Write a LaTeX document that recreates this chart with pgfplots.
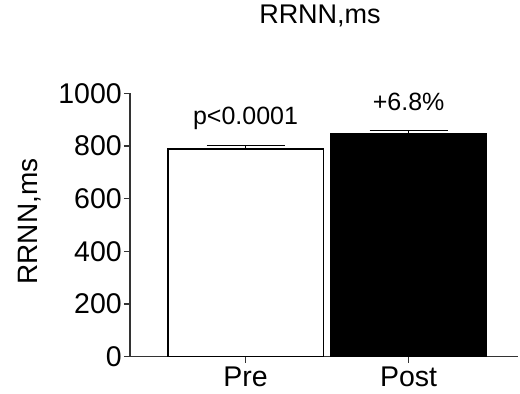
\documentclass[border=0pt]{standalone}
\usepackage{pgfplots}
\pgfplotsset{compat=1.18}
\usepackage{fontspec}
\setmainfont{Liberation Sans}
\begin{document}
\begin{tikzpicture}
\useasboundingbox (-130bp,-37.5bp) rectangle (390bp,356.5bp);
\begin{axis}[
  scale only axis,
  width=388bp, height=263bp,
  xmin=-0.709, xmax=1.671,
  ymin=0, ymax=1000,
  ytick={0,200,400,600,800,1000},
  xtick={0,1}, xticklabels={Pre,Post},
  axis x line*=bottom, axis y line*=left,
  axis line style={line width=1.3bp, draw=black!80},
  tick style={line width=1.3bp, draw=black!80},
  tick align=outside,
  major tick length=6bp,
  /pgf/number format/assume math mode=true,
  /pgf/number format/1000 sep={},
  ticklabel style={font=\fontsize{28.5bp}{33bp}\selectfont},
  yticklabel style={inner sep=2bp},
  xticklabel style={inner sep=2bp, yshift=-2bp},
  title={RRNN,ms},
  title style={font=\fontsize{27bp}{32bp}\selectfont, at={(axis description cs:0.4897,1.272)}, anchor=center},
  ylabel={RRNN,ms},
  ylabel style={font=\fontsize{28bp}{33bp}\selectfont, at={(axis description cs:-0.2577,0.5133)}, anchor=center, rotate=0},
  clip=false,
]
\addplot[ybar, bar shift=0pt, bar width=0.951, fill=white, draw=black, line width=1.2bp,
  error bars/.cd, y dir=plus, y explicit, error mark=|,
  error bar style={line width=1.1bp, black},
  error mark options={line width=1.1bp, black, mark size=39bp}]
  coordinates {(0,789) +- (0,12)};
\addplot[ybar, bar shift=0pt, bar width=0.951, fill=black, draw=black, line width=1.2bp,
  error bars/.cd, y dir=plus, y explicit, error mark=|,
  error bar style={line width=1.1bp, black},
  error mark options={line width=1.1bp, black, mark size=39bp}]
  coordinates {(1,849) +- (0,9.5)};
\node[font=\fontsize{25bp}{29bp}\selectfont, anchor=center] at (axis cs:0,907) {p<0.0001};
\node[font=\fontsize{25bp}{29bp}\selectfont, anchor=center] at (axis cs:1,969) {+6.8\%};
\end{axis}
\end{tikzpicture}
\end{document}
